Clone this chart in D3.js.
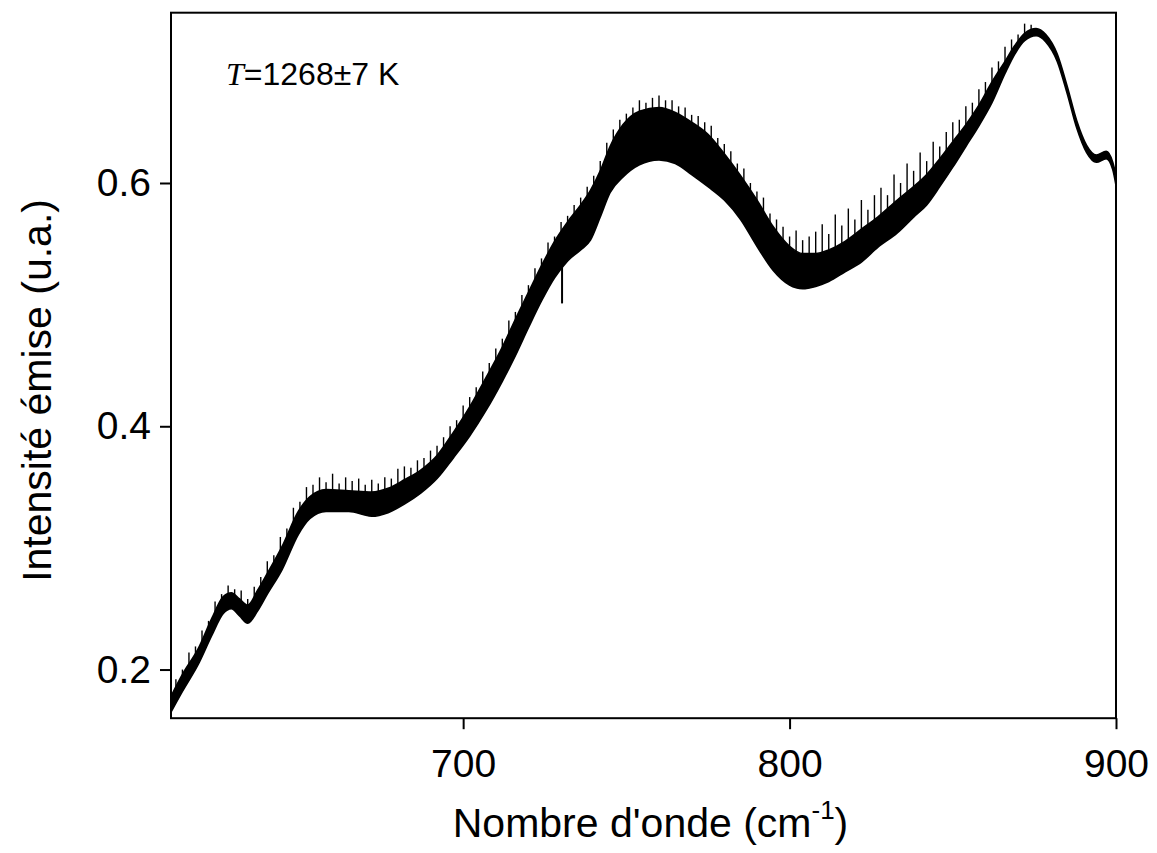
<!DOCTYPE html>
<html>
<head>
<meta charset="utf-8">
<script src="https://cdn.jsdelivr.net/npm/d3@7"></script>
<style>
  html, body { margin: 0; padding: 0; background: #fff; }
  svg { display: block; }
  text { font-family: "Liberation Sans", Arial, sans-serif; fill: #000; }
</style>
</head>
<body>
<svg id="chart" width="1157" height="853"></svg>
<script>
// ---- data ----
const wavenumbers = [610.5, 614, 619, 623, 626.5, 629, 631.5, 634, 637, 640, 644.5, 649.5, 653, 658, 665, 672, 677, 682, 687, 692, 697, 702, 707, 712, 716, 720, 724, 728, 732, 736, 739, 742, 745, 749, 754, 760, 765, 770, 775, 780, 785, 790, 795, 800, 804, 808, 812, 817, 822, 827, 833, 838, 842, 846, 850, 854, 858, 862, 866, 869, 872, 875.5, 878.5, 882, 885, 888, 891, 894, 897, 899, 900];
const lowerEnvelope = [0.165, 0.182, 0.205, 0.228, 0.246, 0.250, 0.244, 0.238, 0.248, 0.262, 0.282, 0.311, 0.324, 0.330, 0.330, 0.326, 0.329, 0.336, 0.345, 0.357, 0.374, 0.392, 0.413, 0.437, 0.458, 0.481, 0.503, 0.522, 0.536, 0.545, 0.553, 0.572, 0.592, 0.605, 0.615, 0.619, 0.616, 0.607, 0.597, 0.586, 0.570, 0.548, 0.528, 0.516, 0.513, 0.515, 0.519, 0.527, 0.535, 0.547, 0.559, 0.572, 0.582, 0.597, 0.613, 0.630, 0.647, 0.666, 0.690, 0.706, 0.717, 0.721, 0.716, 0.700, 0.674, 0.645, 0.625, 0.617, 0.620, 0.611, 0.598];
const upperEnvelope = [0.178, 0.196, 0.218, 0.242, 0.260, 0.263, 0.258, 0.253, 0.265, 0.279, 0.301, 0.330, 0.342, 0.348, 0.347, 0.346, 0.349, 0.356, 0.364, 0.376, 0.395, 0.416, 0.440, 0.465, 0.488, 0.510, 0.532, 0.552, 0.568, 0.582, 0.594, 0.610, 0.630, 0.648, 0.659, 0.662, 0.658, 0.650, 0.640, 0.624, 0.606, 0.586, 0.564, 0.548, 0.542, 0.542, 0.545, 0.552, 0.562, 0.572, 0.586, 0.597, 0.607, 0.620, 0.634, 0.648, 0.664, 0.683, 0.700, 0.713, 0.723, 0.727, 0.722, 0.706, 0.680, 0.651, 0.631, 0.623, 0.626, 0.617, 0.606];
const spikeWavenumbers = [612, 614, 616, 618, 620, 622, 624, 626, 628, 630, 632, 634, 636, 638, 640, 642, 644, 646, 648, 650, 652, 654, 656, 658, 660, 662, 664, 666, 668, 670, 672, 674, 676, 678, 680, 682, 684, 686, 688, 690, 692, 694, 696, 698, 700, 702, 704, 706, 708, 710, 712, 714, 716, 718, 720, 722, 724, 726, 728, 730, 732, 734, 736, 738, 740, 742, 744, 746, 748, 750, 752, 754, 756, 758, 760, 762, 764, 766, 768, 770, 772, 774, 776, 778, 780, 782, 784, 786, 788, 790, 792, 794, 796, 798, 800, 802, 804, 806, 808, 810, 812, 814, 816, 818, 820, 822, 824, 826, 828, 830, 832, 834, 836, 838, 840, 842, 844, 846, 848, 850, 852, 854, 856, 858, 860, 862, 864, 866, 868, 870, 872, 874];
const spikeTops = [0.192, 0.200, 0.214, 0.219, 0.232, 0.240, 0.256, 0.262, 0.269, 0.266, 0.265, 0.258, 0.268, 0.276, 0.289, 0.294, 0.309, 0.316, 0.333, 0.338, 0.350, 0.352, 0.358, 0.354, 0.361, 0.353, 0.358, 0.355, 0.357, 0.352, 0.356, 0.353, 0.358, 0.357, 0.365, 0.367, 0.366, 0.372, 0.374, 0.380, 0.384, 0.391, 0.400, 0.405, 0.417, 0.424, 0.432, 0.445, 0.452, 0.464, 0.472, 0.487, 0.494, 0.508, 0.516, 0.530, 0.538, 0.551, 0.556, 0.568, 0.573, 0.582, 0.588, 0.597, 0.606, 0.618, 0.633, 0.644, 0.652, 0.657, 0.662, 0.668, 0.666, 0.670, 0.672, 0.668, 0.668, 0.663, 0.662, 0.656, 0.655, 0.650, 0.647, 0.637, 0.632, 0.626, 0.616, 0.612, 0.600, 0.593, 0.588, 0.575, 0.570, 0.564, 0.556, 0.561, 0.553, 0.556, 0.560, 0.566, 0.558, 0.574, 0.565, 0.579, 0.570, 0.586, 0.578, 0.590, 0.596, 0.590, 0.607, 0.600, 0.616, 0.610, 0.625, 0.618, 0.634, 0.630, 0.642, 0.650, 0.652, 0.663, 0.666, 0.677, 0.683, 0.695, 0.700, 0.712, 0.718, 0.722, 0.731, 0.730];
const dipWavenumbers = [730.3];
const dipBottoms = [0.501];
const xTicks = [700, 800, 900];
const yTicks = [0.2, 0.4, 0.6];
const xDomain = [610.5, 900];
const yDomain = [0.16, 0.74];
const annotationValue = "=1268±7 K";

// ---- drawing ----
const svg = d3.select("#chart");
const mLeft = 171, mRight = 1116, mTop = 12.7, mBottom = 718.2;
const x = d3.scaleLinear().domain(xDomain).range([mLeft, mRight]);
const y = d3.scaleLinear().domain(yDomain).range([mBottom, mTop]);

const rows = wavenumbers.map((w, i) => ({w, lo: lowerEnvelope[i], hi: upperEnvelope[i]}));
const upperAt = d3.scaleLinear().domain(wavenumbers).range(upperEnvelope);
const lowerAt = d3.scaleLinear().domain(wavenumbers).range(lowerEnvelope);

const plot = svg.append("g");
plot.append("path")
  .datum(rows)
  .attr("d", d3.area().x(d => x(d.w)).y0(d => y(d.lo)).y1(d => y(d.hi)).curve(d3.curveMonotoneX))
  .attr("fill", "#000")
  .attr("stroke", "#000")
  .attr("stroke-width", 1.6)
  .attr("stroke-linejoin", "round");

plot.selectAll("line.spike")
  .data(spikeWavenumbers.map((w, i) => ({w, t: spikeTops[i]})))
  .join("line")
  .attr("class", "spike")
  .attr("x1", d => x(d.w)).attr("x2", d => x(d.w))
  .attr("y1", d => y(upperAt(d.w)) + 2).attr("y2", d => y(d.t))
  .attr("stroke", "#000").attr("stroke-width", 1.4);

plot.selectAll("line.dip")
  .data(dipWavenumbers.map((w, i) => ({w, b: dipBottoms[i]})))
  .join("line")
  .attr("class", "dip")
  .attr("x1", d => x(d.w)).attr("x2", d => x(d.w))
  .attr("y1", d => y(lowerAt(d.w)) - 2).attr("y2", d => y(d.b))
  .attr("stroke", "#000").attr("stroke-width", 2);

// axes
const tickFont = 39, titleFont = 41;
const xAxis = d3.axisBottom(x).tickValues(xTicks).tickSize(11).tickPadding(20).tickFormat(d3.format("d"));
const gx = svg.append("g").attr("transform", `translate(0,${mBottom})`).call(xAxis);
const yAxis = d3.axisLeft(y).tickValues(yTicks).tickSize(11).tickPadding(9).tickFormat(d3.format(".1f"));
const gy = svg.append("g").attr("transform", `translate(${mLeft},0)`).call(yAxis);
[gx, gy].forEach(g => {
  g.select(".domain").remove();
  g.selectAll(".tick line").attr("stroke", "#000").attr("stroke-width", 2);
  g.selectAll(".tick text").attr("font-size", tickFont).attr("font-family", "Liberation Sans, Arial, sans-serif").attr("fill", "#000");
});

// frame
svg.append("rect")
  .attr("x", mLeft).attr("y", mTop)
  .attr("width", mRight - mLeft).attr("height", mBottom - mTop)
  .attr("fill", "none").attr("stroke", "#000").attr("stroke-width", 2);

// axis titles
const xt = svg.append("text")
  .attr("x", (mLeft + mRight) / 2 + 7).attr("y", 837)
  .attr("text-anchor", "middle")
  .attr("font-size", titleFont);
xt.append("tspan").text("Nombre d'onde (cm");
xt.append("tspan").attr("font-size", 26).attr("dy", -18).text("-1");
xt.append("tspan").attr("dy", 18).text(")");

svg.append("text")
  .attr("transform", `translate(51,${(mTop + mBottom) / 2 + 25}) rotate(-90)`)
  .attr("text-anchor", "middle")
  .attr("font-size", titleFont)
  .text("Intensité émise (u.a.)");

// annotation
const ann = svg.append("text").attr("x", 226).attr("y", 85).attr("font-size", 32);
ann.append("tspan").attr("font-family", "Liberation Serif, Times New Roman, serif").attr("font-style", "italic").text("T");
ann.append("tspan").text(annotationValue);
</script>
</body>
</html>
